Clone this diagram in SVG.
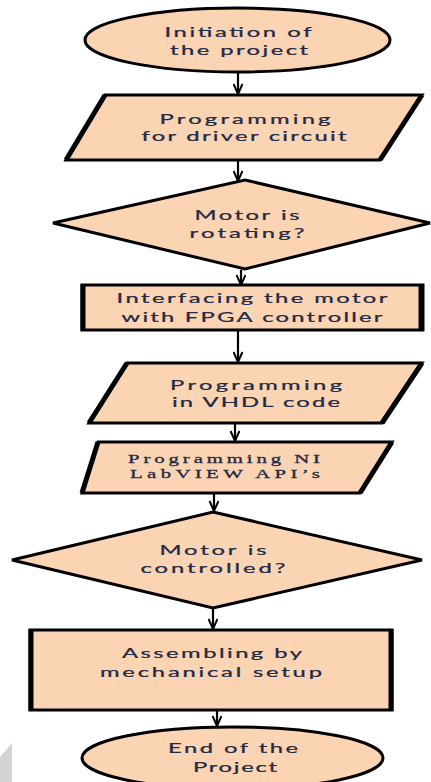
<svg xmlns="http://www.w3.org/2000/svg" width="431" height="782" viewBox="0 0 431 782">
<defs>
<marker id="arr" viewBox="0 0 12 10" refX="11" refY="5" markerWidth="12" markerHeight="10" markerUnits="userSpaceOnUse" orient="auto">
<path d="M1,0.5 L11,5 L1,9.5" fill="none" stroke="#000" stroke-width="2"/>
</marker>
</defs>
<style>
.shape{fill:#fbd4b4;stroke:#000;stroke-width:3;stroke-linejoin:miter}
.t{font-family:Lato,"Open Sans","Liberation Sans",sans-serif;font-size:14px;fill:#1f2a44;text-anchor:middle;stroke:#1f2a44;stroke-width:0.25}
.s{font-family:"Liberation Serif",serif;font-size:13px;fill:#1f2a44;text-anchor:middle;stroke:#1f2a44;stroke-width:0.3}
.c{stroke:#000;stroke-width:2.2;fill:none;marker-end:url(#arr)}
.side{stroke:#000;stroke-width:5}
</style>
<rect width="431" height="782" fill="#fff"/>
<polygon points="0,757 12,743 12,782 0,782" fill="#d4d4d4"/>

<g id="connectors">
<line class="c" x1="238" y1="73" x2="238" y2="94"/>
<line class="c" x1="238" y1="161" x2="238" y2="181"/>
<line class="c" x1="241" y1="270" x2="241" y2="285"/>
<line class="c" x1="238" y1="331" x2="238" y2="362"/>
<line class="c" x1="235" y1="424" x2="235" y2="441"/>
<line class="c" x1="214" y1="494" x2="214" y2="511"/>
<line class="c" x1="213" y1="609" x2="213" y2="629"/>
<line class="c" x1="217" y1="711" x2="217" y2="726"/>
</g>

<g id="start">
<ellipse class="shape" cx="237.5" cy="40" rx="152.5" ry="32"/>
<text class="t" transform="translate(238,37) scale(1.7,1)" textLength="86.5" lengthAdjust="spacing">Initiation of</text>
<text class="t" transform="translate(239,55) scale(1.7,1)" textLength="81.2" lengthAdjust="spacing">the project</text>
</g>

<g id="prog-driver">
<polygon class="shape" points="105,95 422,95 380,160 66,160"/>
<line class="side" x1="105" y1="95" x2="66" y2="160"/>
<line class="side" x1="422" y1="95" x2="380" y2="160"/>
<text class="t" transform="translate(245,124) scale(1.7,1)" textLength="100.6" lengthAdjust="spacing">Programming</text>
<text class="t" transform="translate(244,141) scale(1.7,1)" textLength="120.6" lengthAdjust="spacing">for driver circuit</text>
</g>

<g id="decision-rotating">
<polygon class="shape" points="245,180 430,223 245,269 53,223"/>
<text class="t" transform="translate(247,220) scale(1.7,1)" textLength="61.8" lengthAdjust="spacing">Motor is</text>
<text class="t" transform="translate(247,238) scale(1.7,1)" textLength="67.6" lengthAdjust="spacing">rotating?</text>
</g>

<g id="interfacing">
<rect class="shape" x="82" y="285" width="341" height="45"/>
<line class="side" x1="83" y1="284" x2="83" y2="331"/>
<line class="side" x1="421" y1="284" x2="421" y2="331"/>
<text class="t" transform="translate(252,303) scale(1.7,1)" textLength="159.4" lengthAdjust="spacing">Interfacing the motor</text>
<text class="t" transform="translate(252,322) scale(1.7,1)" textLength="153.5" lengthAdjust="spacing">with FPGA controller</text>
</g>

<g id="prog-vhdl">
<polygon class="shape" points="127,363 422,363 382,423 89,423"/>
<line class="side" x1="127" y1="363" x2="89" y2="423"/>
<line class="side" x1="422" y1="363" x2="382" y2="423"/>
<text class="t" transform="translate(256,390) scale(1.7,1)" textLength="101.2" lengthAdjust="spacing">Programming</text>
<text class="t" transform="translate(256,407) scale(1.7,1)" textLength="98.8" lengthAdjust="spacing">in VHDL code</text>
</g>

<g id="prog-labview">
<polygon class="shape" points="98,442 392,442 360,493 82,493"/>
<line class="side" x1="98" y1="442" x2="82" y2="493"/>
<line class="side" x1="392" y1="442" x2="360" y2="493"/>
<text class="s" transform="translate(224,463) scale(1.6,1)" textLength="120" lengthAdjust="spacing">Programming NI</text>
<text class="s" transform="translate(225,478) scale(1.6,1)" textLength="118.7" lengthAdjust="spacing">LabVIEW API’s</text>
</g>

<g id="decision-controlled">
<polygon class="shape" points="213,512 422,560 213,608 12,560"/>
<text class="t" transform="translate(213,555) scale(1.7,1)" textLength="62.9" lengthAdjust="spacing">Motor is</text>
<text class="t" transform="translate(213,573) scale(1.7,1)" textLength="85.3" lengthAdjust="spacing">controlled?</text>
</g>

<g id="assembling">
<rect class="shape" x="30" y="630" width="362" height="80"/>
<line class="side" x1="31" y1="629" x2="31" y2="711"/>
<line class="side" x1="391" y1="629" x2="391" y2="711"/>
<text class="t" transform="translate(212,658) scale(1.7,1)" textLength="105.9" lengthAdjust="spacing">Assembling by</text>
<text class="t" transform="translate(211,677) scale(1.7,1)" textLength="130.6" lengthAdjust="spacing">mechanical setup</text>
</g>

<g id="end">
<ellipse class="shape" cx="232.5" cy="758" rx="150.5" ry="31"/>
<text class="t" transform="translate(233,753) scale(1.7,1)" textLength="76.5" lengthAdjust="spacing">End of the</text>
<text class="t" transform="translate(235,772) scale(1.7,1)" textLength="49.4" lengthAdjust="spacing">Project</text>
</g>
</svg>
